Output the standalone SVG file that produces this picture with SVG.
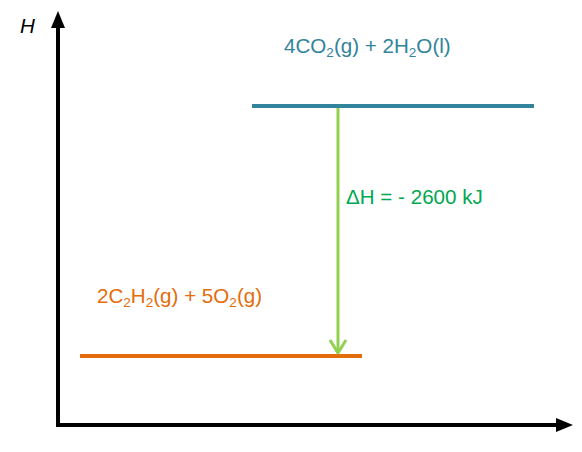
<svg xmlns="http://www.w3.org/2000/svg" width="582" height="452" viewBox="0 0 582 452">
<style>
text{font-family:"Liberation Sans",Arial,sans-serif;font-size:20.6px}
.ax{stroke:#000;stroke-width:4;fill:none}
.sub{font-size:13.5px}
</style>
<rect width="582" height="452" fill="#fff"/>
<g id="axes">
<path class="ax" d="M58,425 V18"/>
<polygon points="58,11 51,28 65,28" fill="#000"/>
<path class="ax" d="M56,425 H562"/>
<polygon points="573,425 556,418 556,432" fill="#000"/>
<text x="20" y="33" font-style="italic" font-size="18">H</text>
</g>
<g id="products">
<line x1="252" y1="106" x2="534" y2="106" stroke="#31849B" stroke-width="4"/>
<text x="284" y="53" fill="#31849B">4CO<tspan class="sub" dy="4">2</tspan><tspan dy="-4">(g) + 2H</tspan><tspan class="sub" dy="4">2</tspan><tspan dy="-4">O(l)</tspan></text>
</g>
<g id="reactants">
<line x1="80" y1="356" x2="362" y2="356" stroke="#E46C0A" stroke-width="4"/>
<text x="97" y="303" fill="#E46C0A">2C<tspan class="sub" dy="4">2</tspan><tspan dy="-4">H</tspan><tspan class="sub" dy="4">2</tspan><tspan dy="-4">(g) + 5O</tspan><tspan class="sub" dy="4">2</tspan><tspan dy="-4">(g)</tspan></text>
</g>
<g id="connectors">
<line x1="338" y1="108" x2="338" y2="353" stroke="#92D050" stroke-width="3"/>
<polyline points="330,340 338,353 346,340" fill="none" stroke="#92D050" stroke-width="3" stroke-linejoin="round"/>
<text x="346" y="204" fill="#00A850">ΔH = - 2600 kJ</text>
</g>
</svg>
